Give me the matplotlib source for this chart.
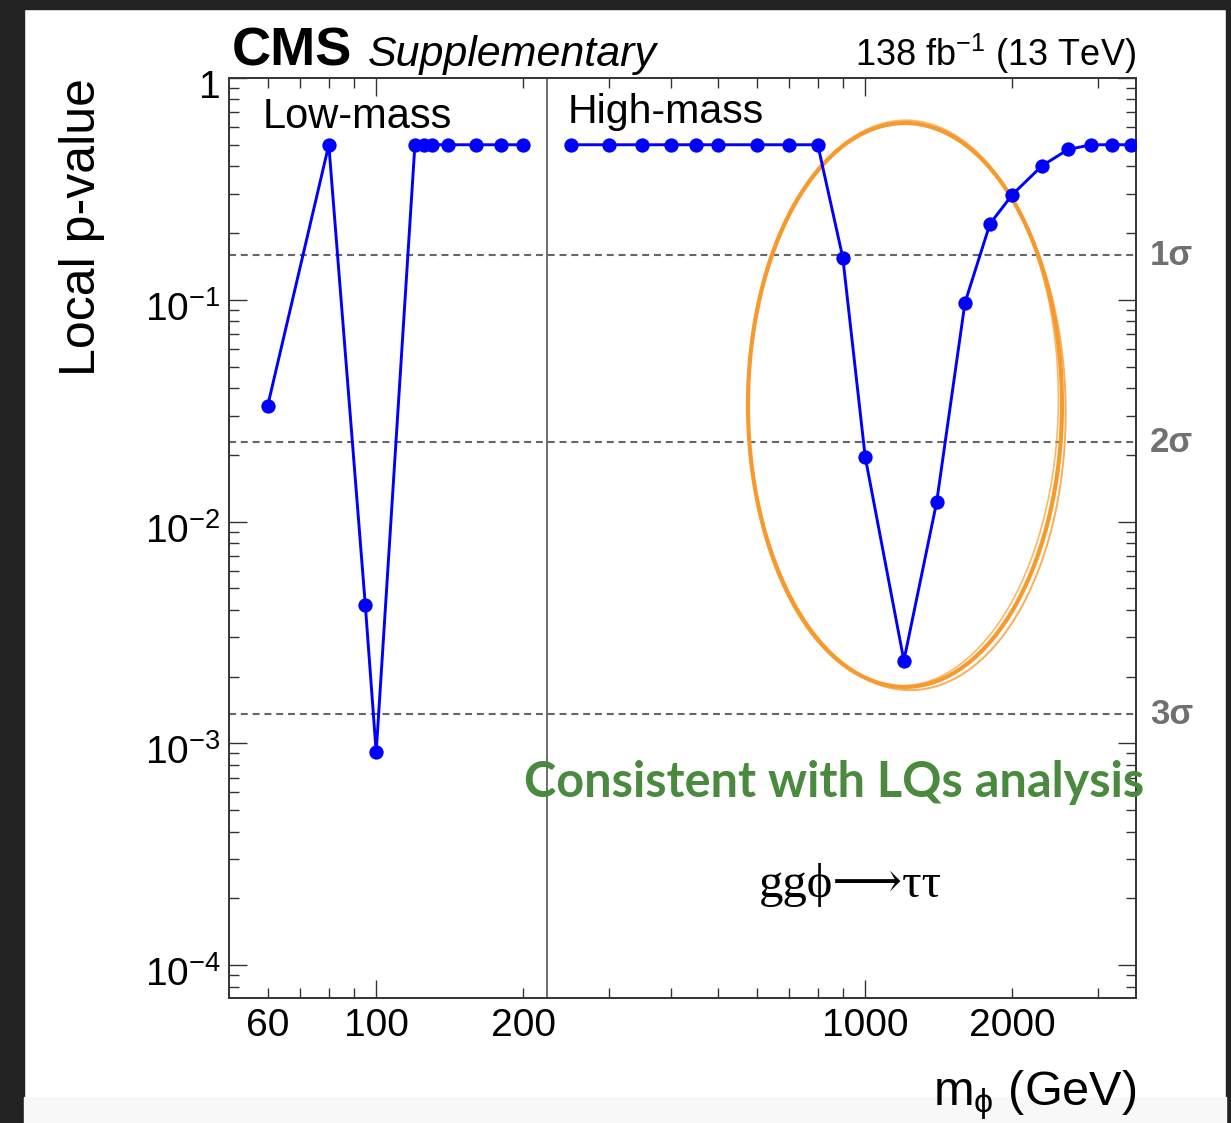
import math
import matplotlib
matplotlib.use("Agg")
import matplotlib.pyplot as plt
from matplotlib.patches import Rectangle, Ellipse
from matplotlib.ticker import FixedLocator, FuncFormatter, LogLocator
import matplotlib.transforms as mtransforms

# ---------------- data ----------------
low_mass = [60, 80, 95, 100, 120, 125, 130, 140, 160, 180, 200]
low_pvalue = [0.0333, 0.5, 0.0042, 0.00091, 0.5, 0.5, 0.5, 0.5, 0.5, 0.5, 0.5]

high_mass = [250, 300, 350, 400, 450, 500, 600, 700, 800, 900, 1000,
             1200, 1400, 1600, 1800, 2000, 2300, 2600, 2900, 3200, 3500]
high_pvalue = [0.5, 0.5, 0.5, 0.5, 0.5, 0.5, 0.5, 0.5, 0.5, 0.155, 0.0196,
               0.00236, 0.0122, 0.097, 0.22, 0.298, 0.402, 0.476, 0.5, 0.5, 0.5]

sigma_levels = [1, 2, 3]
sigma_labels = ["1\u03c3", "2\u03c3", "3\u03c3"]
sigma_pvalues = [0.5 * math.erfc(s / math.sqrt(2.0)) for s in sigma_levels]

xtick_labels = [60, 100, 200, 1000, 2000]
x_major = [100, 1000]
x_minor = [60, 70, 80, 90, 200, 300, 400, 500, 600, 700, 800, 900, 2000, 3000]
divider_mass = 224
x_range = (50, 3580)
y_range = (7.1e-5, 1.0)

# ---------------- style ----------------
plt.rcParams['font.family'] = ['Liberation Sans', 'DejaVu Sans']
plt.rcParams['mathtext.fontset'] = 'custom'
plt.rcParams['mathtext.rm'] = 'Liberation Sans'
plt.rcParams['mathtext.it'] = 'Liberation Sans:italic'
plt.rcParams['mathtext.bf'] = 'Liberation Sans:bold'
plt.rcParams['mathtext.default'] = 'regular'
plt.rcParams['lines.scale_dashes'] = False

W, H = 1231, 1123
fig = plt.figure(figsize=(W / 100, H / 100), dpi=100)
fig.patch.set_facecolor('white')

# screenshot frame
dark = '#222222'
fig.add_artist(Rectangle((0, 0), 24 / W, 1, transform=fig.transFigure, color=dark, zorder=-5))
fig.add_artist(Rectangle((0, 1 - 9 / H), 1, 9 / H, transform=fig.transFigure, color=dark, zorder=-5))
fig.add_artist(Rectangle((1226 / W, 0), 5 / W, 1, transform=fig.transFigure, color=dark, zorder=-5))
fig.add_artist(Rectangle((24 / W, 0), (1226 - 24) / W, 26 / H, transform=fig.transFigure,
                         color='#f8f8f8', zorder=-5))

ax_l, ax_r, ax_t, ax_b = 229, 1136, 78, 998
ax = fig.add_axes([ax_l / W, 1 - ax_b / H, (ax_r - ax_l) / W, (ax_b - ax_t) / H])
ax.set_xscale('log')
ax.set_yscale('log')
ax.set_xlim(*x_range)
ax.set_ylim(*y_range)

for sp in ax.spines.values():
    sp.set_linewidth(1.4)
    sp.set_color('#333333')

ax.xaxis.set_major_locator(FixedLocator(x_major))
ax.xaxis.set_minor_locator(FixedLocator(x_minor))
xfmt = FuncFormatter(lambda v, p: f"{v:g}" if round(v) in xtick_labels else "")
ax.xaxis.set_major_formatter(xfmt)
ax.xaxis.set_minor_formatter(xfmt)

ax.yaxis.set_major_locator(LogLocator(base=10, numticks=12))
ax.yaxis.set_minor_locator(LogLocator(base=10, subs=[2, 3, 4, 5, 6, 7, 8, 9], numticks=12))


def yfmt(v, p):
    e = int(round(math.log10(v)))
    return "1" if e == 0 else r"$10^{%d}$" % e


ax.yaxis.set_major_formatter(FuncFormatter(yfmt))
ax.yaxis.set_minor_formatter(FuncFormatter(lambda v, p: ""))

ax.tick_params(which='both', direction='in', top=True, right=True, color='#333333', width=1.0)
ax.tick_params(which='major', length=13)
ax.tick_params(which='minor', length=7)
ax.tick_params(axis='x', which='both', labelsize=28, pad=7)
ax.tick_params(axis='y', which='both', labelsize=28, pad=6)

# sigma lines
for pv, lab in zip(sigma_pvalues, sigma_labels):
    ax.axhline(pv, color='#666666', lw=1.5, ls=(0, (5, 3.5)), zorder=2)
    ax.text(1.0154, pv, lab, transform=ax.get_yaxis_transform(), ha='left', va='center',
            fontsize=25, color='#707070', fontweight='bold', clip_on=False)

# divider
ax.axvline(divider_mass, color='#555555', lw=1.2, zorder=2)

# orange hand-drawn ellipse (annotation)
orange = '#f79a2e'
for dx, dy, dw, dh, ang, lw, al in [(0, 0, 0, 0, 0, 3.0, 1.0),
                                     (0.002, -0.002, 0.004, 0.003, 1.0, 1.4, 0.8),
                                     (-0.002, 0.002, -0.004, 0.002, -0.8, 1.2, 0.7)]:
    e = Ellipse((0.7453 + dx, 0.6446 + dy), 0.3462 + dw, 0.613 + dh, angle=ang,
                transform=ax.transAxes, fill=False, edgecolor=orange, lw=lw, alpha=al,
                zorder=2.5, clip_on=False)
    ax.add_patch(e)

# data
blue = '#0000ff'
for xs, ys in [(low_mass, low_pvalue), (high_mass, high_pvalue)]:
    ax.plot(xs, ys, color=blue, lw=2.1, marker='o', markersize=10.3,
            markeredgewidth=0, zorder=3)

# in-plot labels
ax.text((263 - ax_l) / (ax_r - ax_l), (ax_b - 128) / (ax_b - ax_t), "Low-mass",
        transform=ax.transAxes, fontsize=30, va='baseline', ha='left')
ax.text((568 - ax_l) / (ax_r - ax_l), (ax_b - 123) / (ax_b - ax_t), "High-mass",
        transform=ax.transAxes, fontsize=29.5, va='baseline', ha='left')
ax.text((850 - ax_l) / (ax_r - ax_l), (ax_b - 897) / (ax_b - ax_t), "gg\u03d5\u27f6\u03c4\u03c4",
        transform=ax.transAxes, fontsize=35, va='baseline', ha='center',
        family=['Liberation Serif', 'DejaVu Serif', 'DejaVu Sans'])

# header
fig.text(232 / W, 1 - 66 / H, "CMS", fontsize=39, fontweight='bold', va='baseline', ha='left')
fig.text(368 / W, 1 - 66 / H, "Supplementary", fontsize=31, fontstyle='italic',
         va='baseline', ha='left')
fig.text(1136 / W, 1 - 66 / H, r"138 fb$^{-1}$ (13 TeV)", fontsize=26,
         va='baseline', ha='right')

# axis titles
fig.text(82 / W, 1 - 78 / H, "Local p-value", fontsize=36, rotation=90,
         ha='center', va='top')
fig.text(1136 / W, 1 - 1105 / H, r"m$_{\phi}$ (GeV)", fontsize=35, ha='right', va='baseline')

# green annotation
fig.text(524 / W, 1 - 797 / H, "Consistent with LQs analysis", fontsize=35,
         fontweight='bold', color='#4a8a3e', family=['Lato', 'DejaVu Sans'],
         ha='left', va='baseline', zorder=10)

# shift y tick labels slightly downward as in the ROOT original
fig.canvas.draw()
offset = mtransforms.ScaledTranslation(0, -6 / 100, fig.dpi_scale_trans)
for t in ax.yaxis.get_major_ticks():
    t.label1.set_transform(t.label1.get_transform() + offset)

fig.savefig("out.png", dpi=100)
